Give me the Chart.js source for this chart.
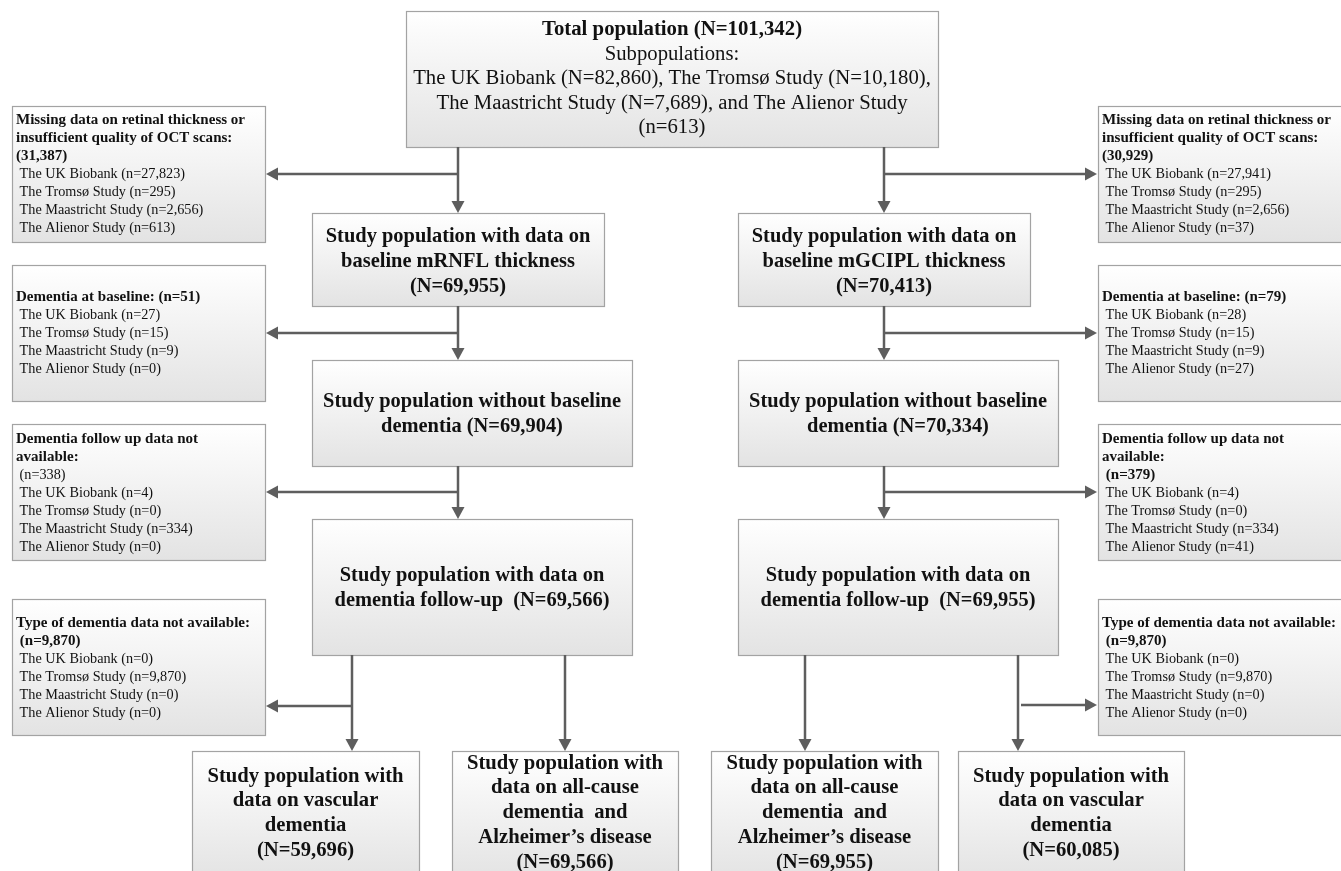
<!DOCTYPE html>
<html><head><meta charset="utf-8">
<script src="https://cdn.jsdelivr.net/npm/chart.js@4"></script>
<style>html,body{margin:0;padding:0;background:#fff;}#wrap{width:1341px;height:871px;}</style>
</head><body><div id="wrap"><canvas id="c" width="1341" height="871"></canvas></div>
<script>
// ---------- DATA ----------
const studies = ["The UK Biobank", "The Tromsø Study", "The Maastricht Study", "The Alienor Study"];
const totalN = 101342;
const subpopN = [82860, 10180, 7689, 613];
const leftStageN = [69955, 69904, 69566, 59696, 69566];   // mRNFL arm
const rightStageN = [70413, 70334, 69955, 69955, 60085];  // mGCIPL arm
const leftExclTotals = [31387, 51, 338, 9870];
const rightExclTotals = [30929, 79, 379, 9870];
const leftMissing = [27823, 295, 2656, 613];
const rightMissing = [27941, 295, 2656, 37];
const leftBaselineDem = [27, 15, 9, 0];
const rightBaselineDem = [28, 15, 9, 27];
const leftNoFollowUp = [4, 0, 334, 0];
const rightNoFollowUp = [4, 0, 334, 41];
const leftNoType = [0, 9870, 0, 0];
const rightNoType = [0, 9870, 0, 0];

const fmt = v => v.toLocaleString('en-US');
const FONT = '"Liberation Serif", "Times New Roman", serif';

// ---------- TEXT CONTENT (from data) ----------
function studyLines(arr) { return arr.map((v, i) => ({t: ' ' + studies[i] + ' (n=' + fmt(v) + ')', b: false})); }
function exclBoxes(totals, missing, baseDem, noFU, noType, fuBold) {
  return [
    [{t:'Missing data on retinal thickness or', b:true}, {t:'insufficient quality of OCT scans:', b:true}, {t:'(' + fmt(totals[0]) + ')', b:true}].concat(studyLines(missing)),
    [{t:'Dementia at baseline: (n=' + fmt(totals[1]) + ')', b:true}].concat(studyLines(baseDem)),
    [{t:'Dementia follow up data not', b:true}, {t:'available:', b:true}, {t:' (n=' + fmt(totals[2]) + ')', b:fuBold}].concat(studyLines(noFU)),
    [{t:'Type of dementia data not available:', b:true}, {t:' (n=' + fmt(totals[3]) + ')', b:true}].concat(studyLines(noType))
  ];
}
const leftExclText = exclBoxes(leftExclTotals, leftMissing, leftBaselineDem, leftNoFollowUp, leftNoType, false);
const rightExclText = exclBoxes(rightExclTotals, rightMissing, rightBaselineDem, rightNoFollowUp, rightNoType, true);
function stageText(N, layer) {
  return [
    ['Study population with data on', 'baseline ' + layer + ' thickness', '(N=' + fmt(N[0]) + ')'],
    ['Study population without baseline', 'dementia (N=' + fmt(N[1]) + ')'],
    ['Study population with data on', 'dementia follow-up  (N=' + fmt(N[2]) + ')']
  ];
}
const leftStageText = stageText(leftStageN, 'mRNFL');
const rightStageText = stageText(rightStageN, 'mGCIPL');
const vascText = N => ['Study population with', 'data on vascular', 'dementia', '(N=' + fmt(N) + ')'];
const allText = N => ['Study population with', 'data on all-cause', 'dementia  and', 'Alzheimer\u2019s disease', '(N=' + fmt(N) + ')'];
const topText = [
  {t:'Total population (N=' + fmt(totalN) + ')', b:true},
  {t:'Subpopulations:', b:false},
  {t:'The UK Biobank (N=' + fmt(subpopN[0]) + '), The Tromsø Study (N=' + fmt(subpopN[1]) + '),', b:false},
  {t:'The Maastricht Study (N=' + fmt(subpopN[2]) + '), and The Alienor Study', b:false},
  {t:'(n=' + fmt(subpopN[3]) + ')', b:false}
];

// ---------- LAYOUT (diagram units) ----------
const exclY = [[106,242,120],[265,401,297],[424,560,439],[599,735,623]];
const stageBoxes = [[213,306,236,292],[360,466,401,320],[519,655,575,320]]; // y0,y1,firstLine,width
const leftColX = 312, rightColX = 738;

const flowPlugin = {
  id: 'flow',
  afterDraw(chart) {
    const ctx = chart.ctx, xs = chart.scales.x, ys = chart.scales.y;
    const X = v => xs.getPixelForValue(v), Y = v => ys.getPixelForValue(v);
    function box(x0, y0, x1, y1) {
      const px0 = X(x0), py0 = Y(y0), px1 = X(x1), py1 = Y(y1);
      const g = ctx.createLinearGradient(0, py0, 0, py1);
      g.addColorStop(0, '#ffffff'); g.addColorStop(1, '#e3e3e3');
      ctx.fillStyle = g; ctx.fillRect(px0, py0, px1 - px0, py1 - py0);
      ctx.strokeStyle = '#a3a3a3'; ctx.lineWidth = 1.2;
      ctx.strokeRect(Math.round(px0) + 0.5, Math.round(py0) + 0.5, Math.round(px1 - px0), Math.round(py1 - py0));
    }
    function text(t, x, y, size, bold, align, sx) {
      ctx.save();
      ctx.font = (bold ? 'bold ' : '') + size + 'px ' + FONT;
      const w = ctx.measureText(t).width * sx;
      const left = align === 'center' ? X(x) - w / 2 : X(x);
      ctx.translate(left, Y(y)); ctx.scale(sx, 1);
      ctx.fillStyle = '#111'; ctx.textBaseline = 'middle'; ctx.textAlign = 'left';
      ctx.fillText(t, 0, 0);
      ctx.restore();
    }
    function arrow(x0, y0, x1, y1) {
      const L = 12, H = 6.5;
      const ang = Math.atan2(Y(y1) - Y(y0), X(x1) - X(x0));
      const bx = X(x1) - L * Math.cos(ang), by = Y(y1) - L * Math.sin(ang);
      ctx.strokeStyle = '#5e5e5e'; ctx.lineWidth = 2.5; ctx.beginPath();
      ctx.moveTo(X(x0), Y(y0)); ctx.lineTo(bx, by); ctx.stroke();
      ctx.fillStyle = '#5e5e5e'; ctx.beginPath();
      ctx.moveTo(X(x1), Y(y1));
      ctx.lineTo(bx - H * Math.sin(ang), by + H * Math.cos(ang));
      ctx.lineTo(bx + H * Math.sin(ang), by - H * Math.cos(ang));
      ctx.closePath(); ctx.fill();
    }

    // top box
    box(406, 11, 938, 147);
    topText.forEach((l, i) => text(l.t, 672, 30 + i * 24.5, 20, l.b, 'center', l.b ? 1.04 : 1.035));

    // exclusion boxes
    [[leftExclText, 12, 265, 16], [rightExclText, 1098, 1346, 1102]].forEach(([txt, x0, x1, tx]) => {
      exclY.forEach((e, k) => {
        box(x0, e[0], x1, e[1]);
        txt[k].forEach((l, i) => text(l.t, tx, e[2] + i * 18, l.b ? 15.5 : 15, l.b, 'left', l.b ? 0.97 : 0.95));
      });
    });

    // stage boxes
    [[leftStageText, leftColX], [rightStageText, rightColX]].forEach(([txt, cx]) => {
      stageBoxes.forEach((s, k) => {
        box(cx, s[0], cx + s[3], s[1]);
        txt[k].forEach((t, i) => text(t, cx + s[3] / 2, s[2] + i * 25, 21.5, true, 'center', 0.95));
      });
    });

    // bottom boxes
    const bottoms = [
      [192, 419, 776, vascText(leftStageN[3])],
      [452, 678, 763, allText(leftStageN[4])],
      [711, 938, 763, allText(rightStageN[3])],
      [958, 1184, 776, vascText(rightStageN[4])]
    ];
    bottoms.forEach(b => {
      box(b[0], 751, b[1], 880);
      b[3].forEach((t, i) => text(t, (b[0] + b[1]) / 2, b[2] + i * 24.8, 21.5, true, 'center', 0.96));
    });

    // arrows
    [[458, -1, 265], [884, 1, 1098]].forEach(([x, dir, edge]) => {
      arrow(x, 147, x, 213); arrow(x, 174, edge + (dir < 0 ? 1 : -1), 174);
      arrow(x, 306, x, 360); arrow(x, 333, edge + (dir < 0 ? 1 : -1), 333);
      arrow(x, 466, x, 519); arrow(x, 492, edge + (dir < 0 ? 1 : -1), 492);
    });
    arrow(352, 655, 352, 751); arrow(352, 706, 266, 706);
    arrow(565, 655, 565, 751);
    arrow(805, 655, 805, 751);
    arrow(1018, 655, 1018, 751); arrow(1021, 705, 1097, 705);
  }
};

new Chart(document.getElementById('c'), {
  type: 'scatter',
  data: { datasets: [] },
  options: {
    responsive: false, animation: false, devicePixelRatio: 1,
    layout: { padding: 0 },
    plugins: { legend: { display: false }, tooltip: { enabled: false } },
    scales: {
      x: { type: 'linear', min: 0, max: 1341, display: false },
      y: { type: 'linear', min: 0, max: 871, reverse: true, display: false }
    }
  },
  plugins: [flowPlugin]
});
</script>
</body></html>
